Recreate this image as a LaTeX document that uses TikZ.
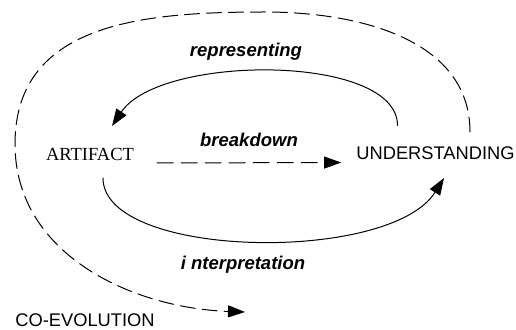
\documentclass[tikz,border=0pt]{standalone}
\usepackage{fontspec}
\setmainfont{Liberation Serif}
\setsansfont{Liberation Sans}
\usepackage{tikz}
\usetikzlibrary{arrows.meta,calc}

\begin{document}
\begin{tikzpicture}[line cap=round,line join=round,x=1pt,y=1pt,
        >={Triangle[length=17pt,width=12pt]},
        flow/.style={line width=1pt,->},
        dashflow/.style={flow,dash pattern=on 16pt off 8pt},
        verb/.style={font=\fontsize{18.5}{20}\selectfont\sffamily\bfseries\itshape,inner sep=0pt},
        pole/.style={font=\fontsize{18.5}{20}\selectfont,inner sep=0pt}]
    \useasboundingbox (0,0) rectangle (516,329);
    % the two poles
    \node[pole] (artifact) at (90,175) {ARTIFACT};
    \node[pole,font=\fontsize{18.3}{20}\selectfont\sffamily] (understanding) at (435.5,175.5) {UNDERSTANDING};
    \node[pole,font=\fontsize{18.3}{20}\selectfont\sffamily] (coevolution) at (85,9) {CO-EVOLUTION};
    % labels of the loops
    \node[verb] (representing) at (246,277) {representing};
    \node[verb] (breakdown) at (249,189) {breakdown};
    \node[verb] (interpretation) at (243,64) {i nterpretation};
    \coordinate (coend) at (245,17);
    % loops
    \draw[flow] ([shift={(-38pt,28pt)}]understanding.center) .. controls +(0,72) and +(48,72) .. ([shift={(22pt,28pt)}]artifact.center);
    \draw[flow] ([shift={(13pt,-24pt)}]artifact.center) .. controls +(0,-81) and +(-54,-86) .. ([shift={(8.5pt,-24.5pt)}]understanding.center);
    \draw[dashflow,shorten <=23pt,shorten >=15pt] ([yshift=-9pt]artifact.east) -- ([yshift=-9pt]understanding.west);
    \draw[dashflow,dash pattern=on 15pt off 7pt] ([shift={(34.5pt,21.5pt)}]understanding.center)
        to[out=90,in=0] (265,317) to[out=180,in=90,looseness=1.1] (15,185) to[out=-90,in=178] (coend);
\end{tikzpicture}
\end{document}
